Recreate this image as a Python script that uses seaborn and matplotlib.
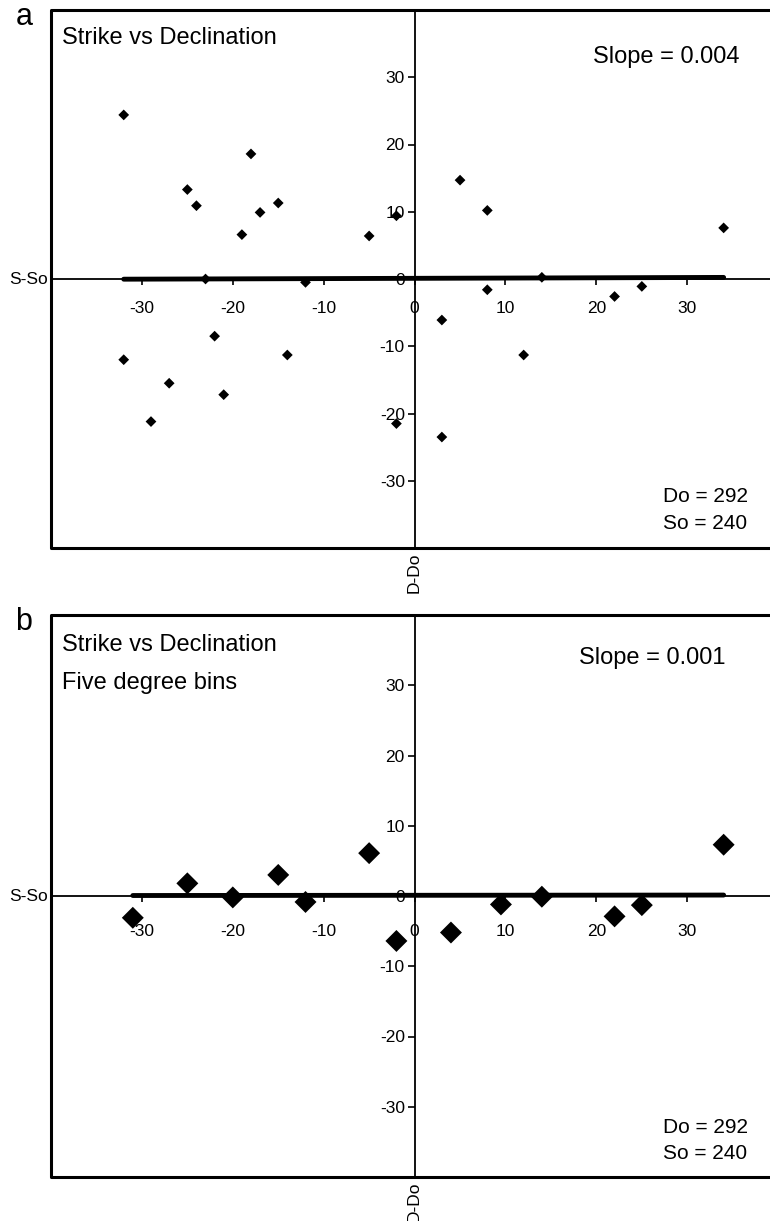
import numpy as np
import pandas as pd
import matplotlib
matplotlib.use("Agg")
import matplotlib.pyplot as plt
import seaborn as sns

# ==============================
# datos (D-Do, S-So)

# panel a: todos los datos
dx_a = [-32, -18, -25, -24, -17, -15, -19, -5, -2, -23, -12, 5, 8, 34, 14, 8,
        -32, -22, -14, -27, -21, -29, -2, 3, 12, 3, 22, 25]
dy_a = [24.4, 18.6, 13.3, 10.9, 9.9, 11.3, 6.6, 6.4, 9.4, 0.0, -0.5, 14.7, 10.2, 7.6, 0.25, -1.6,
        -12.0, -8.5, -11.3, -15.5, -17.2, -21.2, -21.5, -6.1, -11.3, -23.5, -2.6, -1.1]

# panel b: bins de cinco grados
dx_b = [-31, -25, -20, -15, -12, -5, -2, 4, 9.5, 14, 22, 25, 34]
dy_b = [-3.1, 1.8, -0.2, 3.0, -0.85, 6.1, -6.4, -5.2, -1.2, -0.1, -2.9, -1.3, 7.3]

# regresion
slope_a, icpt_a = 0.004, 0.1
slope_b, icpt_b = 0.001, 0.1

ticks = [-30, -20, -10, 0, 10, 20, 30]

sns.set_style("white")
plt.rcParams['font.family'] = ['Liberation Sans', 'DejaVu Sans']
plt.rcParams['axes.unicode_minus'] = False  # guion normal como en el original
for k in ['text.color', 'xtick.color', 'ytick.color', 'axes.labelcolor', 'axes.edgecolor']:
    plt.rcParams[k] = 'black'

fig = plt.figure(figsize=(7.7, 12.21), dpi=100)
W, H = 770, 1221


def panel(top, bottom, dx, dy, slope, icpt, msize, letter, slope_txt, extra, txt_y, xpad):
    ax = fig.add_axes([51 / W, 1 - bottom / H, (W - 51) / W, (bottom - top) / H])
    df = pd.DataFrame({"x": dx, "y": dy})
    # linea de ajuste
    xs = np.array([min(dx), max(dx)])
    sns.lineplot(x=xs, y=icpt + slope * xs, ax=ax, color="black", lw=3.5, zorder=3)
    sns.scatterplot(data=df, x="x", y="y", ax=ax, marker="D", s=msize,
                    color="black", edgecolor="none", zorder=4)
    ax.set_xlim(-40, 39.1)
    ax.set_ylim(-40, 40)
    ax.set_xlabel("")
    ax.set_ylabel("")
    ax.set_xticks(ticks)
    ax.set_yticks(ticks)
    for s in ["top", "right"]:
        ax.spines[s].set_visible(False)
    ax.spines["left"].set_position(("data", 0))
    ax.spines["bottom"].set_position(("data", 0))
    ax.spines["left"].set_linewidth(1.3)
    ax.spines["bottom"].set_linewidth(1.3)
    ax.spines["left"].set_zorder(1)
    ax.spines["bottom"].set_zorder(1)
    ax.tick_params(axis="y", direction="out", length=5, width=1.2, pad=2, labelsize=12.5, left=True)
    ax.tick_params(axis="x", direction="out", length=4, width=1.2, pad=xpad, labelsize=12.5, bottom=True)
    # marco
    ax.plot([1, 0, 0, 1], [1, 1, 0, 0], transform=ax.transAxes, color="black",
            lw=2.2, clip_on=False, zorder=5)
    ax.text(-38.75, 35.8, "Strike vs Declination", fontsize=17, ha="left", va="center")
    if extra:
        ax.text(-38.75, 30.3, extra, fontsize=17, ha="left", va="center")
    ax.text(slope_txt[0], slope_txt[1], slope_txt[2], fontsize=17, ha="left", va="center")
    ax.text(27.3, txt_y[0], "Do = 292", fontsize=15, ha="left", va="center")
    ax.text(27.3, txt_y[1], "So = 240", fontsize=15, ha="left", va="center")
    ax.text(-40.3, 0, "S-So", fontsize=12.5, ha="right", va="center")
    ax.text(0, -40.6, "D-Do", fontsize=12.5, ha="center", va="top", rotation=90)
    fig.text(24 / W, 1 - (top + 7) / H, letter, fontsize=22, ha="center", va="center")
    return ax


panel(10, 548, dx_a, dy_a, slope_a, icpt_a, 30, "a", (19.6, 33.0, "Slope = 0.004"),
      None, (-32.4, -36.4), 11.5)
panel(615, 1177, dx_b, dy_b, slope_b, icpt_b, 125, "b", (18.1, 33.9, "Slope = 0.001"),
      "Five degree bins", (-33.0, -36.6), 16.5)

fig.savefig("out.png", dpi=100)
